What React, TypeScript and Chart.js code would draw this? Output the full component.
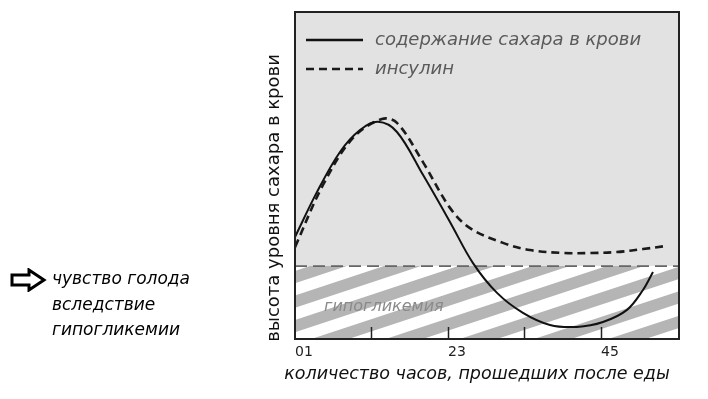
import React, { useEffect, useRef } from "react";
import { Chart, registerables } from "chart.js";

Chart.register(...registerables);

// ---- data ----
const sugarHours = [0, 0.288, 0.588, 0.85, 1.085, 1.333, 1.673, 2.026, 2.327, 2.641, 2.98, 3.333, 3.686, 4.026, 4.34, 4.549, 4.68];
const sugarLevel = [31.2, 45.0, 57.2, 63.9, 66.4, 63.3, 50.2, 35.8, 23.2, 14.1, 8.0, 4.3, 3.7, 5.2, 8.9, 15.0, 20.5];
const insulinHours = [0, 0.366, 0.758, 1.137, 1.333, 1.673, 2.026, 2.288, 2.719, 3.072, 3.503, 3.856, 4.209, 4.549, 4.837];
const insulinLevel = [28.1, 47.1, 61.5, 67.3, 66.1, 54.1, 40.1, 33.9, 29.4, 27.2, 26.3, 26.3, 26.6, 27.5, 28.4];
const hypoLevel = 22.3;
const xMin = 0;
const xMax = 5.02;
const yMin = 0;
const yMax = 100;
const xTickValues = [0, 1, 2, 3, 4];
const xTickLabels = ["01", "", "23", "", "45"];
const seriesLabels = ["содержание сахара в крови", "инсулин"];
const hypoLabel = "гипогликемия";
const xTitle = "количество часов, прошедших после еды";
const yTitle = "высота уровня сахара в крови";
const noteLines = ["чувство голода", "вследствие", "гипогликемии"];

const FONT = '"DejaVu Sans", "Open Sans", sans-serif';

const decorPlugin = {
  id: "decor",
  beforeDraw(chart: any) {
    const { ctx, chartArea: a, scales } = chart;
    const yH = scales.y.getPixelForValue(hypoLevel);
    ctx.save();
    ctx.fillStyle = "#ffffff";
    ctx.fillRect(0, 0, chart.width, chart.height);
    // upper area
    ctx.fillStyle = "#e2e2e2";
    ctx.fillRect(a.left, a.top, a.right - a.left, yH - a.top);
    // striped lower area
    ctx.beginPath();
    ctx.rect(a.left, yH, a.right - a.left, a.bottom - yH);
    ctx.clip();
    ctx.fillStyle = "#ffffff";
    ctx.fillRect(a.left, yH, a.right - a.left, a.bottom - yH);
    const theta = Math.atan(0.33);
    const P = 24.5 * Math.cos(theta);
    ctx.translate(a.left, a.bottom - 13);
    ctx.rotate(-theta);
    ctx.fillStyle = "#b5b5b5";
    for (let i = -30; i <= 30; i++) {
      ctx.fillRect(-200, i * P - P * 0.25, 1200, P * 0.5);
    }
    ctx.restore();
    // hypo label
    ctx.save();
    ctx.font = `oblique 16px ${FONT}`;
    ctx.fillStyle = "#8a8a8a";
    ctx.textBaseline = "middle";
    ctx.fillText(hypoLabel, a.left + 29, (yH + a.bottom) / 2 + 4);
    ctx.restore();
  },
  afterDraw(chart: any) {
    const { ctx, chartArea: a, scales } = chart;
    ctx.save();
    // frame
    ctx.strokeStyle = "#222";
    ctx.lineWidth = 2;
    ctx.strokeRect(a.left, a.top, a.right - a.left, a.bottom - a.top);
    // inward ticks
    ctx.lineWidth = 1.5;
    scales.x.ticks.forEach((t: any) => {
      const px = Math.round(scales.x.getPixelForValue(t.value)) + 0.5;
      if (px - a.left < 3) return;
      ctx.beginPath();
      ctx.moveTo(px, a.bottom);
      ctx.lineTo(px, a.bottom - 12);
      ctx.stroke();
    });
    // legend
    const ds = chart.data.datasets;
    [0, 1].forEach((i) => {
      const y = a.top + 28 + i * 29;
      ctx.beginPath();
      ctx.strokeStyle = ds[i].borderColor;
      ctx.lineWidth = 2.5;
      ctx.setLineDash(ds[i].borderDash || []);
      ctx.moveTo(a.left + 11, y);
      ctx.lineTo(a.left + 68, y);
      ctx.stroke();
      ctx.setLineDash([]);
      ctx.font = `oblique 18px ${FONT}`;
      ctx.fillStyle = "#5a5a5a";
      ctx.textBaseline = "middle";
      ctx.fillText(ds[i].label, a.left + 80, y);
    });
    // y title
    ctx.save();
    ctx.translate(274, 198);
    ctx.rotate(-Math.PI / 2);
    ctx.font = `18px ${FONT}`;
    ctx.fillStyle = "#111";
    ctx.textAlign = "center";
    ctx.textBaseline = "middle";
    ctx.fillText(yTitle, 0, 0);
    ctx.restore();
    // x title
    ctx.font = `oblique 17.5px ${FONT}`;
    ctx.fillStyle = "#111";
    ctx.textAlign = "center";
    ctx.textBaseline = "middle";
    ctx.fillText(xTitle, 477, 374);
    ctx.restore();
  },
};

export default function App() {
  const ref = useRef<HTMLCanvasElement | null>(null);
  useEffect(() => {
    document.body.style.margin = "0";
    const canvas = ref.current;
    if (!canvas) return;
    const chart = new Chart(canvas, {
      type: "line",
      data: {
        datasets: [
          {
            label: seriesLabels[0],
            data: sugarHours.map((h, i) => ({ x: h, y: sugarLevel[i] })),
            borderColor: "#111111",
            borderWidth: 2,
            pointRadius: 0,
            tension: 0.35,
            fill: false,
          },
          {
            label: seriesLabels[1],
            data: insulinHours.map((h, i) => ({ x: h, y: insulinLevel[i] })),
            borderColor: "#1a1a1a",
            borderWidth: 2.6,
            borderDash: [8, 5],
            pointRadius: 0,
            tension: 0.35,
            fill: false,
          },
          {
            label: "hypo",
            data: [
              { x: xMin, y: hypoLevel },
              { x: xMax, y: hypoLevel },
            ],
            borderColor: "#666666",
            borderWidth: 1.8,
            borderDash: [12, 6],
            pointRadius: 0,
            fill: false,
          },
        ],
      },
      options: {
        responsive: false,
        animation: false,
        devicePixelRatio: 1,
        layout: { padding: { left: 295, right: 29, top: 12, bottom: 0 } },
        plugins: { legend: { display: false }, tooltip: { enabled: false } },
        scales: {
          x: {
            type: "linear",
            min: xMin,
            max: xMax,
            afterBuildTicks: (s: any) => {
              s.ticks = xTickValues.map((v) => ({ value: v }));
            },
            afterFit: (s: any) => {
              s.height = 60;
            },
            grid: { display: false },
            border: { display: false },
            ticks: {
              align: "start",
              padding: -3,
              autoSkip: false,
              maxRotation: 0,
              color: "#222",
              font: { family: FONT, size: 14 },
              callback: (v: any, i: number) => xTickLabels[i] ?? "",
            },
          },
          y: {
            type: "linear",
            min: yMin,
            max: yMax,
            display: false,
          },
        },
      } as any,
      plugins: [decorPlugin],
    });
    return () => chart.destroy();
  }, []);

  return (
    <div style={{ position: "relative", width: 708, height: 399, background: "#fff" }}>
      <canvas ref={ref} width={708} height={399} style={{ position: "absolute", left: 0, top: 0 }} />
      <svg width={40} height={24} style={{ position: "absolute", left: 9, top: 268 }} viewBox="0 0 40 24">
        <path d="M3 7 H20 V2 L35 12 L20 22 V17 H3 Z" fill="none" stroke="#000" strokeWidth={3} strokeLinejoin="miter" />
      </svg>
      {noteLines.map((t, i) => (
        <div
          key={i}
          style={{
            position: "absolute",
            left: 52,
            top: 265 + i * 25.5,
            fontFamily: FONT,
            fontStyle: "oblique",
            fontSize: 17,
            lineHeight: "26px",
            color: "#000",
            whiteSpace: "nowrap",
          }}
        >
          {t}
        </div>
      ))}
    </div>
  );
}
